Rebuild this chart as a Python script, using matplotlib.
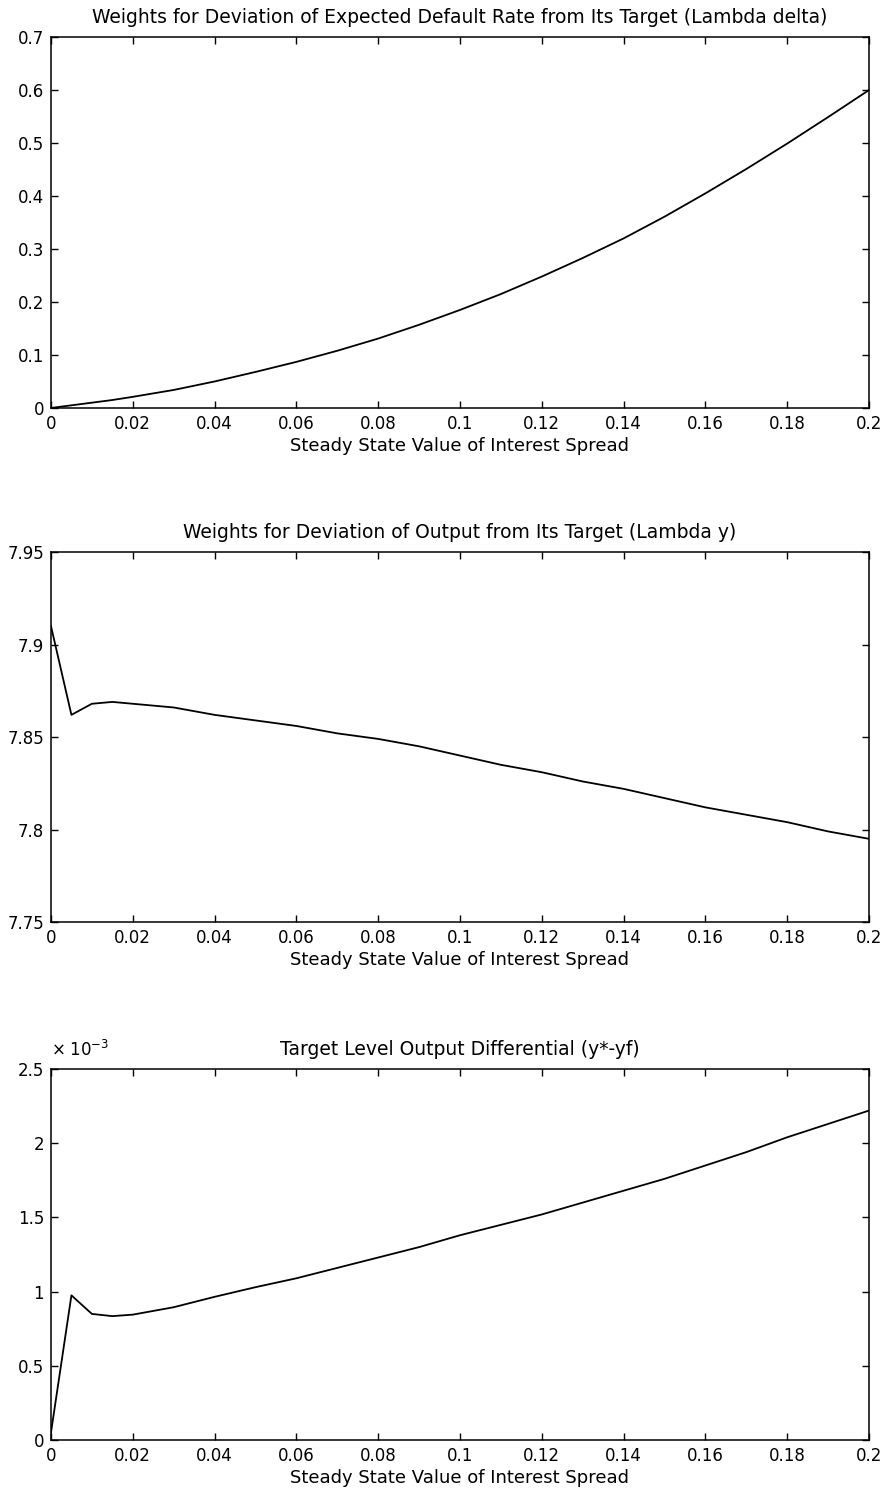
import numpy as np
import matplotlib
matplotlib.use('Agg')
import matplotlib.pyplot as plt

# steady state value of interest spread
spread = [0, 0.005, 0.01, 0.015, 0.02, 0.03, 0.04, 0.05, 0.06, 0.07, 0.08, 0.09, 0.1,
          0.11, 0.12, 0.13, 0.14, 0.15, 0.16, 0.17, 0.18, 0.19, 0.2]

lambda_delta = [0.0, 0.005, 0.010, 0.015, 0.021, 0.034, 0.050, 0.068, 0.087, 0.108, 0.131,
                0.157, 0.185, 0.215, 0.248, 0.283, 0.320, 0.361, 0.405, 0.451, 0.499, 0.549, 0.600]

lambda_y = [7.910, 7.862, 7.868, 7.869, 7.868, 7.866, 7.862, 7.859, 7.856, 7.852, 7.849,
            7.845, 7.840, 7.835, 7.831, 7.826, 7.822, 7.817, 7.812, 7.808, 7.804, 7.799, 7.795]

# y* - yf, in units of 1e-3
output_diff = [0.05, 0.975, 0.85, 0.835, 0.845, 0.895, 0.965, 1.03, 1.09, 1.16, 1.23,
               1.30, 1.38, 1.45, 1.52, 1.60, 1.68, 1.76, 1.85, 1.94, 2.04, 2.13, 2.22]

xticks = [0, 0.02, 0.04, 0.06, 0.08, 0.1, 0.12, 0.14, 0.16, 0.18, 0.2]
xticklabels = ['0', '0.02', '0.04', '0.06', '0.08', '0.1', '0.12', '0.14', '0.16', '0.18', '0.2']

yticks1 = [0, 0.1, 0.2, 0.3, 0.4, 0.5, 0.6, 0.7]
yticklabels1 = ['0', '0.1', '0.2', '0.3', '0.4', '0.5', '0.6', '0.7']
yticks2 = [7.75, 7.8, 7.85, 7.9, 7.95]
yticklabels2 = ['7.75', '7.8', '7.85', '7.9', '7.95']
yticks3 = [0, 0.5, 1, 1.5, 2, 2.5]
yticklabels3 = ['0', '0.5', '1', '1.5', '2', '2.5']

titles = ['Weights for Deviation of Expected Default Rate from Its Target (Lambda delta)',
          'Weights for Deviation of Output from Its Target (Lambda y)',
          'Target Level Output Differential (y*-yf)']
xlabel = 'Steady State Value of Interest Spread'

plt.rcParams['font.family'] = ['DejaVu Sans']

fig = plt.figure(figsize=(8.88, 15.01), dpi=100)
rects = [[0.0574, 0.7282, 0.9212, 0.2471],
         [0.0574, 0.3857, 0.9212, 0.2465],
         [0.0574, 0.0406, 0.9212, 0.2472]]

series = [lambda_delta, lambda_y, output_diff]
ylims = [(0, 0.7), (7.75, 7.95), (0, 2.5)]
yt = [(yticks1, yticklabels1), (yticks2, yticklabels2), (yticks3, yticklabels3)]

for i in range(3):
    ax = fig.add_axes(rects[i])
    ax.plot(spread, series[i], color='black', linewidth=1.3)
    ax.set_xlim(0, 0.2)
    ax.set_ylim(*ylims[i])
    ax.set_xticks(xticks)
    ax.set_xticklabels(xticklabels)
    ax.set_yticks(yt[i][0])
    ax.set_yticklabels(yt[i][1])
    ax.tick_params(direction='in', top=True, right=True, length=5, width=1,
                   labelsize=12, pad=5)
    for s in ax.spines.values():
        s.set_linewidth(1.1)
    ax.set_title(titles[i], fontsize=13.5, pad=10)
    ax.set_xlabel(xlabel, fontsize=13, labelpad=3)

# exponent label for the last panel
ax.text(0.0, 1.025, r'$\times\;10^{-3}$', transform=ax.transAxes, fontsize=12,
        ha='left', va='bottom')

fig.savefig('out.png', dpi=100, facecolor='white')
